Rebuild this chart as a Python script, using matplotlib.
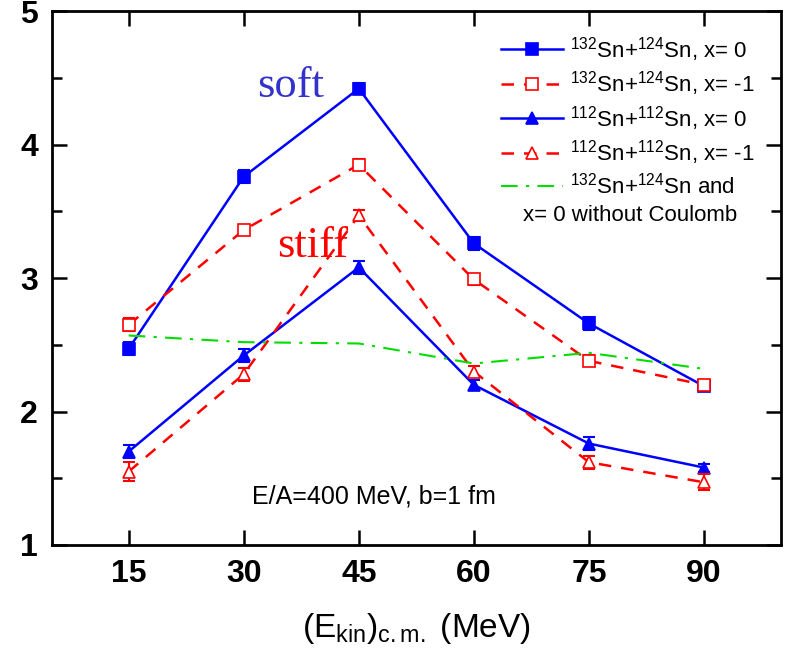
import matplotlib.pyplot as plt

plt.rcParams['font.family'] = ['Liberation Sans', 'DejaVu Sans']
plt.rcParams['mathtext.fontset'] = 'custom'
plt.rcParams['mathtext.rm'] = 'Liberation Sans'
plt.rcParams['mathtext.it'] = 'Liberation Sans:italic'
plt.rcParams['mathtext.bf'] = 'Liberation Sans:bold'

# data
e_kin = [15, 30, 45, 60, 75, 90]
sn132_x0 = [2.47, 3.76, 4.42, 3.26, 2.66, 2.19]
sn132_x0_err = [0.05, 0.05, 0.04, 0.05, 0.05, 0.03]
sn132_xm1 = [2.65, 3.36, 3.85, 2.99, 2.38, 2.20]
sn132_xm1_err = [0.05, 0.04, 0.04, 0.04, 0.04, 0.04]
sn112_x0 = [1.70, 2.42, 3.08, 2.20, 1.76, 1.58]
sn112_x0_err = [0.05, 0.05, 0.05, 0.04, 0.05, 0.03]
sn112_xm1 = [1.55, 2.28, 3.47, 2.30, 1.62, 1.47]
sn112_xm1_err = [0.07, 0.05, 0.04, 0.04, 0.05, 0.06]
no_coulomb = [2.57, 2.52, 2.51, 2.36, 2.44, 2.32]

fig = plt.figure(figsize=(7.87, 6.59), dpi=100)
ax = fig.add_axes([0.066, 0.173, 0.926, 0.81])

dash = (0, (5, 4))
series = [
    (sn132_x0, sn132_x0_err, 'blue', '-', 's', 'blue', 8, r'$^{132}$Sn+$^{124}$Sn, x= 0'),
    (sn132_xm1, sn132_xm1_err, 'red', dash, 's', 'white', 8, r'$^{132}$Sn+$^{124}$Sn, x= -1'),
    (sn112_x0, sn112_x0_err, 'blue', '-', '^', 'blue', 9, r'$^{112}$Sn+$^{112}$Sn, x= 0'),
    (sn112_xm1, sn112_xm1_err, 'red', dash, '^', 'white', 9, r'$^{112}$Sn+$^{112}$Sn, x= -1'),
]
for vals, err, col, ls, mk, mfc, ms, lab in series:
    ax.errorbar(e_kin, vals, yerr=err, fmt='none', ecolor=col, elinewidth=1.5,
                capsize=4.5, capthick=1.5)
    ax.plot(e_kin, vals, color=col, ls=ls, lw=1.8, marker=mk, ms=ms, mfc=mfc,
            mec=col, mew=1.2, label=lab)
ax.plot(e_kin, no_coulomb, color='#00dd00', ls=(0, (8, 4, 1.5, 4)), lw=1.5,
        label='$^{132}$Sn+$^{124}$Sn and')

ax.text(31.8, 4.36, 'soft', color='#3333cc', fontsize=32, family='Liberation Serif')
ax.text(34.4, 3.16, 'stiff', color='red', fontsize=32, family='Liberation Serif')
ax.text(47.0, 1.36, 'E/A=400 MeV, b=1 fm', fontsize=18, ha='center', va='center')

ax.set_xlim(5, 100)
ax.set_ylim(1, 5)
ax.set_xticks(e_kin)
ax.set_yticks([1, 2, 3, 4, 5])
ax.set_yticks([1.5, 2.5, 3.5, 4.5], minor=True)
ax.tick_params(which='both', direction='in', top=True, right=True, width=1.8)
ax.tick_params(which='major', length=11, labelsize=23, pad=10)
ax.tick_params(which='minor', length=7)
for lbl in ax.get_xticklabels() + ax.get_yticklabels():
    lbl.set_fontweight('bold')
for sp in ax.spines.values():
    sp.set_linewidth(2)

ax.set_xlabel(r'(E$_{\mathrm{kin}}$)$_{\mathrm{c.m.}}$ (MeV)', fontsize=24, labelpad=16)

leg = ax.legend(loc='upper right', bbox_to_anchor=(0.985, 0.985), fontsize=16,
                frameon=False, handlelength=2.8, handletextpad=0.3,
                labelspacing=0.25, borderaxespad=0.3)
ax.text(0.646, 0.618, 'x= 0 without Coulomb', transform=ax.transAxes,
        fontsize=16, ha='left', va='center')

fig.savefig('out.png', dpi=100)
